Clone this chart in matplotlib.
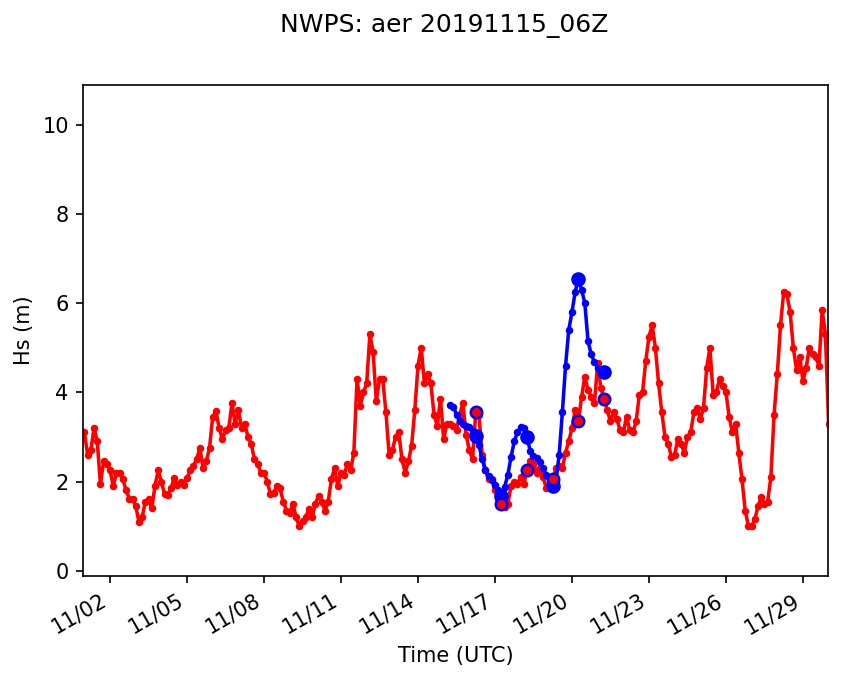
import numpy as np
import pandas as pd
import matplotlib
matplotlib.use("Agg")
import matplotlib.pyplot as plt
import matplotlib.dates as mdates

# Observed Hs (m), 3-hourly from 2019-11-01 00Z to 2019-11-30 00Z
obs_hs = [
    3.1, 2.6, 2.7, 3.2, 2.9, 1.95, 2.45, 2.4,          # 11/01
    2.25, 1.9, 2.2, 2.2, 2.05, 1.8, 1.62, 1.6,         # 11/02
    1.45, 1.1, 1.2, 1.55, 1.6, 1.4, 1.9, 2.25,         # 11/03
    2.0, 1.72, 1.7, 1.85, 2.08, 1.92, 2.0, 1.92,       # 11/04
    2.08, 2.25, 2.35, 2.5, 2.75, 2.3, 2.45, 2.75,      # 11/05
    3.45, 3.58, 3.2, 2.95, 3.15, 3.2, 3.75, 3.3,       # 11/06
    3.6, 3.2, 3.3, 3.0, 2.85, 2.5, 2.4, 2.2,           # 11/07
    2.2, 2.0, 1.72, 1.75, 1.9, 1.85, 1.55, 1.35,       # 11/08
    1.3, 1.5, 1.2, 1.0, 1.12, 1.2, 1.38, 1.2,          # 11/09
    1.5, 1.68, 1.55, 1.35, 1.55, 2.05, 2.3, 1.9,       # 11/10
    2.2, 2.15, 2.4, 2.25, 2.65, 4.3, 3.7, 4.0,         # 11/11
    4.2, 5.3, 4.9, 3.8, 4.3, 4.3, 3.55, 2.6,           # 11/12
    2.7, 3.0, 3.1, 2.5, 2.2, 2.45, 2.8, 3.6,           # 11/13
    4.6, 5.0, 4.2, 4.4, 4.2, 3.5, 3.25, 3.85,          # 11/14
    2.95, 3.3, 3.3, 3.25, 3.15, 3.5, 3.75, 3.05,       # 11/15
    2.7, 2.5, 3.55, 3.5, 2.6, 2.25, 2.05, 2.05,        # 11/16
    1.8, 1.6, 1.5, 1.42, 1.5, 1.9, 2.0, 1.95,          # 11/17
    2.1, 1.95, 2.25, 2.45, 2.4, 2.2, 2.3, 2.1,         # 11/18
    1.85, 2.0, 2.05, 2.3, 2.35, 2.3, 2.65, 2.9,        # 11/19
    3.2, 3.6, 3.35, 3.9, 4.35, 4.05, 3.9, 3.75,        # 11/20
    4.65, 4.1, 3.85, 3.6, 3.35, 3.55, 3.4, 3.15,       # 11/21
    3.1, 3.45, 3.15, 3.1, 3.35, 3.95, 4.0, 4.7,        # 11/22
    5.25, 5.5, 5.0, 4.2, 3.55, 3.0, 2.85, 2.55,        # 11/23
    2.6, 2.95, 2.85, 2.65, 3.0, 3.1, 3.55, 3.65,       # 11/24
    3.4, 3.65, 4.55, 5.0, 3.95, 4.0, 4.3, 4.15,        # 11/25
    4.0, 3.45, 3.1, 3.3, 2.65, 2.05, 1.35, 1.0,        # 11/26
    1.0, 1.15, 1.45, 1.65, 1.5, 1.55, 2.1, 3.5,        # 11/27
    4.4, 5.5, 6.25, 6.2, 5.8, 5.0, 4.5, 4.8,           # 11/28
    4.25, 4.55, 5.0, 4.85, 4.8, 4.6, 5.85, 5.3,        # 11/29
    3.3,                                               # 11/30 00Z
]

# NWPS forecast Hs (m), 3-hourly from the 2019-11-15 06Z run
fcst_hs = [
    3.72, 3.68, 3.5, 3.36, 3.28, 3.24, 3.22, 3.14,
    3.02, 2.82, 2.5, 2.25, 2.12, 2.03, 1.93, 1.8,
    1.68, 1.88, 2.15, 2.55, 2.9, 3.1, 3.22, 3.2,
    3.0, 2.68, 2.57, 2.52, 2.44, 2.3, 2.15, 2.0,
    1.9, 2.0, 2.6, 3.55, 4.6, 5.4, 5.8, 6.25,
    6.55, 6.3, 6.0, 5.15, 4.85, 4.68, 4.55, 4.5,
    4.45,
]

obs_time = pd.date_range("2019-11-01 00:00", periods=len(obs_hs), freq="3h")
fcst_time = pd.date_range("2019-11-15 06:00", periods=len(fcst_hs), freq="3h")

obs = pd.Series(obs_hs, index=obs_time)
fcst = pd.Series(fcst_hs, index=fcst_time)

# verification points every 24 h of forecast (day 1 to day 6)
fcst_daily = fcst.iloc[8::8]
obs_daily = obs.reindex(fcst_daily.index)

fig = plt.figure(figsize=(8.46 / 1.5, 6.81 / 1.5), dpi=150)
ax = fig.add_axes([0.0985, 0.1546, 0.8802, 0.7201])

ax.plot(obs.index, obs.values, "-o", color="red", lw=1.7, ms=2.6)
ax.plot(fcst.index, fcst.values, "-o", color="blue", lw=1.7, ms=2.6)
ax.plot(fcst_daily.index, fcst_daily.values, "o", color="blue", ms=6)
ax.plot(obs_daily.index, obs_daily.values, "o", mfc="red", mec="blue",
        mew=1.2, ms=5.5)

ax.set_xlim(pd.Timestamp("2019-10-31 23:00"), pd.Timestamp("2019-11-29 23:25"))
ax.set_ylim(-0.11, 10.88)
ax.set_yticks([0, 2, 4, 6, 8, 10])

ax.xaxis.set_major_locator(mdates.DayLocator(bymonthday=[2, 5, 8, 11, 14, 17, 20, 23, 26, 29]))
ax.xaxis.set_major_formatter(mdates.DateFormatter("%m/%d"))
for lbl in ax.get_xticklabels():
    lbl.set_rotation(30)
    lbl.set_ha("right")

ax.set_xlabel("Time (UTC)")
ax.set_ylabel("Hs (m)")
fig.suptitle("NWPS: aer 20191115_06Z", x=0.525)

fig.savefig("out.png", dpi=150)
